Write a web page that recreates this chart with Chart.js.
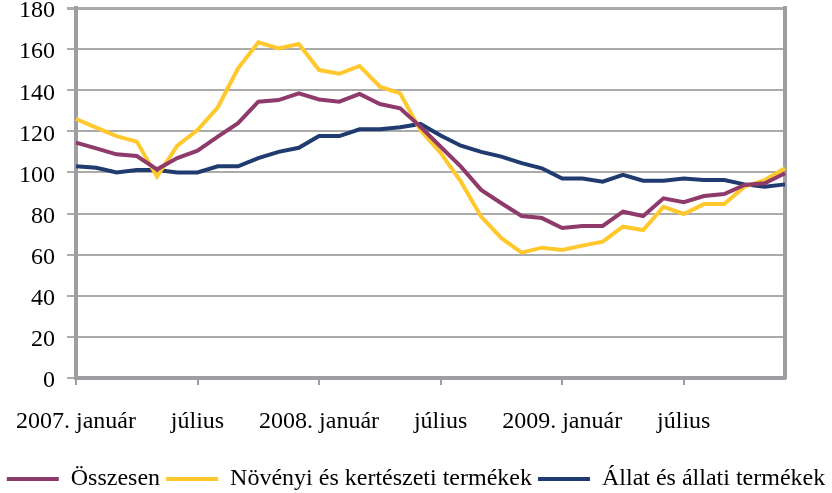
<!DOCTYPE html>
<html>
<head>
<meta charset="utf-8">
<script src="https://cdn.jsdelivr.net/npm/chart.js@4.4.1/dist/chart.umd.min.js"></script>
<style>
  html, body { margin: 0; padding: 0; background: #fff; }
  #wrap { position: relative; width: 832px; height: 493px; }
</style>
</head>
<body>
<div id="wrap"><canvas id="priceChart"></canvas></div>
<script>
// monthly categories, 2007 Jan - 2009 Dec
const months = [
    '2007. január', 'február', 'március', 'április', 'május', 'június',
    'július', 'augusztus', 'szeptember', 'október', 'november', 'december',
    '2008. január', 'február', 'március', 'április', 'május', 'június',
    'július', 'augusztus', 'szeptember', 'október', 'november', 'december',
    '2009. január', 'február', 'március', 'április', 'május', 'június',
    'július', 'augusztus', 'szeptember', 'október', 'november', 'december'
];

const osszesen = [
    114.5, 111.7, 108.8, 108, 101.5, 107, 110.6, 117.4, 124, 134.4, 135.2, 138.5,
    135.5, 134.4, 138.2, 133.3, 131.2, 122.3, 112.5, 102.8, 91.5, 85, 78.8, 77.8,
    73, 74, 74, 80.9, 78.8, 87.4, 85.5, 88.5, 89.5, 93.9, 94.7, 99.6
];
const novenyi = [
    126, 121.8, 117.7, 115, 98, 113, 120.6, 131.7, 150.7, 163.3, 160.3, 162.5,
    149.8, 148, 151.8, 141.7, 138.5, 120.6, 109.5, 95.5, 78.5, 68, 61, 63.4,
    62.3, 64.4, 66.3, 73.6, 72, 83.3, 79.8, 84.6, 84.6, 93.1, 96.3, 102
];
const allati = [
    103, 102.3, 100, 101.2, 101.2, 100, 100, 103, 103, 107, 110, 112,
    117.7, 117.7, 121, 121, 122, 123.6, 118, 113, 110, 107.7, 104.5, 102,
    97, 97, 95.5, 98.8, 96, 96, 97.1, 96.3, 96.3, 94.2, 93.1, 94.2
];

const FONT = "'Liberation Serif', 'Times New Roman', serif";
const AXIS_GRAY = '#9c9ea1';
const GRID_GRAY = '#ababab';

function series(label, data, color) {
    return {
        label,
        data,
        borderColor: color,
        backgroundColor: color,
        borderWidth: 4,
        pointRadius: 0,
        tension: 0,
        fill: false
    };
}

const ctx = document.getElementById('priceChart').getContext('2d');
new Chart(ctx, {
    type: 'line',
    data: {
        labels: months,
        datasets: [
            series('Összesen', osszesen, '#8e3b6b'),
            series('Növényi és kertészeti termékek', novenyi, '#ffc82d'),
            series('Állat és állati termékek', allati, '#1f3b70')
        ]
    },
    options: {
        responsive: true,
        maintainAspectRatio: false,
        animation: false,
        // negative bottom lets the legend row sit lower than its box allows
        layout: { padding: { top: 8, right: 0, bottom: -8, left: 0 } },
        plugins: {
            tooltip: { enabled: false },
            legend: {
                position: 'bottom',
                labels: {
                    font: { family: FONT, size: 24, lineHeight: 0.8 },
                    color: '#000',
                    usePointStyle: true,
                    pointStyle: 'line',
                    pointStyleWidth: 52,
                    padding: 6,
                    sort: (a, b) => a.datasetIndex - b.datasetIndex
                }
            }
        },
        scales: {
            x: {
                offset: false,
                grid: {
                    offset: false,
                    drawOnChartArea: false,
                    drawTicks: true,
                    tickLength: 7,
                    lineWidth: 2,
                    color: c => (c.index % 6 === 0 ? AXIS_GRAY : 'rgba(0,0,0,0)')
                },
                border: { color: AXIS_GRAY, width: 4 },
                ticks: {
                    autoSkip: false,
                    maxRotation: 0,
                    padding: 22,
                    color: '#000',
                    font: { family: FONT, size: 24 },
                    callback: (v, i) => (i % 6 === 0 ? months[i] : '')
                },
                afterFit: s => {
                    s.height = 83;
                    s.paddingLeft = 0;
                    s.paddingRight = 0;
                }
            },
            y: {
                min: 0,
                max: 180,
                ticks: {
                    stepSize: 20,
                    padding: 12,
                    labelOffset: 3,
                    color: '#000',
                    font: { family: FONT, size: 24 }
                },
                grid: {
                    color: GRID_GRAY,
                    lineWidth: c => (c.tick && c.tick.value === 180 ? 3 : 2),
                    tickLength: 9
                },
                border: { color: AXIS_GRAY, width: 4 },
                afterFit: s => {
                    s.width = 76;
                    s.paddingTop = 0;
                    s.paddingBottom = 0;
                }
            },
            y2: {
                position: 'right',
                min: 0,
                max: 180,
                ticks: { display: false },
                grid: { display: false, drawTicks: false },
                border: { display: true, color: AXIS_GRAY, width: 4 },
                afterFit: s => { s.width = 47; }
            }
        }
    }
});
</script>
</body>
</html>
